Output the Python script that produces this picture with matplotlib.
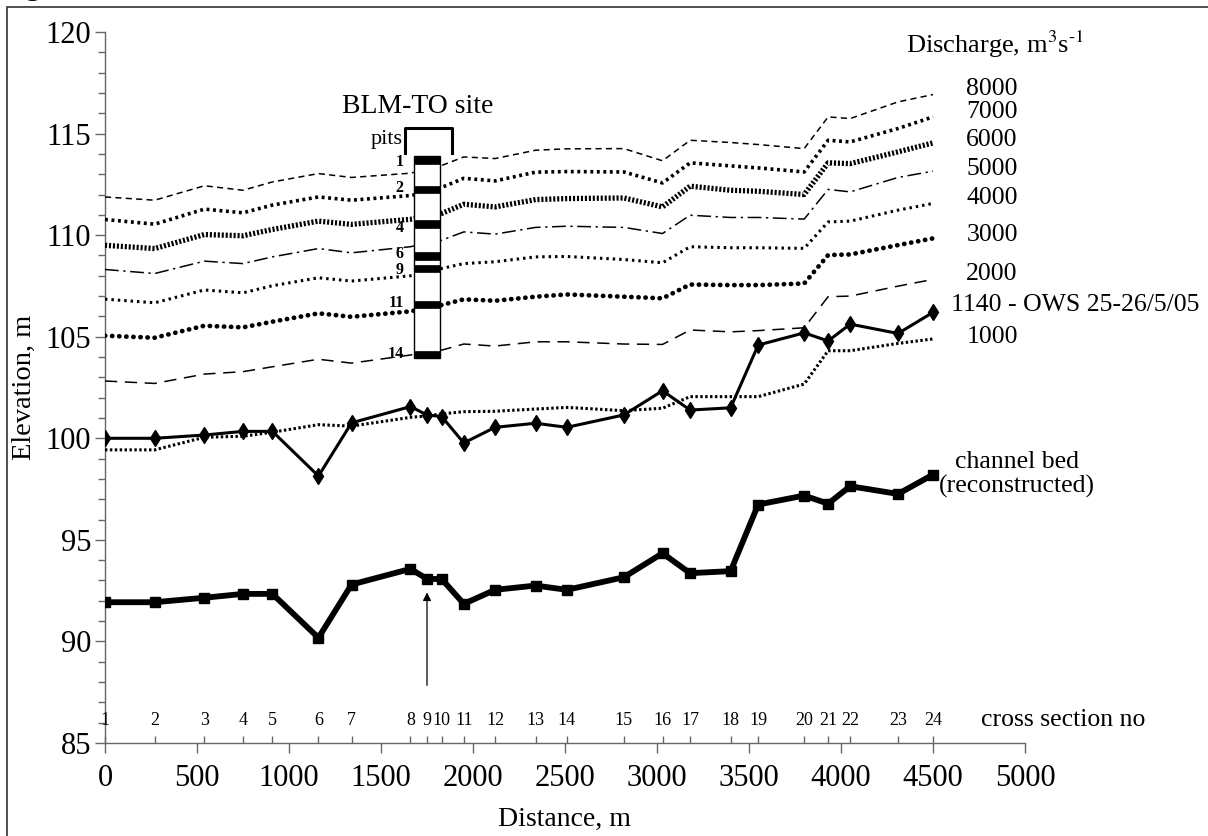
import matplotlib
matplotlib.use('Agg')
import matplotlib.pyplot as plt
from matplotlib.patches import Rectangle
from matplotlib.ticker import MultipleLocator, FixedLocator

plt.rcParams['font.family'] = ['Liberation Serif', 'DejaVu Serif']
plt.rcParams['mathtext.fontset'] = 'stix'

# cross sections along the reach
section_no = list(range(1, 25))
distance = [0, 270, 540, 750, 910, 1160, 1340, 1660, 1750, 1830, 1950, 2120,
            2340, 2510, 2820, 3030, 3180, 3400, 3550, 3800, 3930, 4050, 4310, 4500]

# water surface elevation (m) for each discharge (m3/s)
q8000 = [111.88, 111.72, 112.43, 112.21, 112.62, 113.03, 112.84, 113.05, 113.25, 113.43, 113.85, 113.77,
         114.18, 114.25, 114.26, 113.66, 114.67, 114.56, 114.46, 114.26, 115.82, 115.74, 116.56, 116.92]
q7000 = [110.77, 110.54, 111.28, 111.10, 111.48, 111.88, 111.72, 111.95, 112.10, 112.35, 112.80, 112.67,
         113.10, 113.13, 113.11, 112.57, 113.56, 113.41, 113.31, 113.11, 114.67, 114.59, 115.25, 115.82]
q6000 = [109.50, 109.34, 110.03, 109.97, 110.28, 110.69, 110.53, 110.78, 110.92, 111.07, 111.52, 111.39,
         111.75, 111.80, 111.83, 111.39, 112.41, 112.21, 112.16, 112.00, 113.56, 113.52, 114.10, 114.54]
q5000 = [108.31, 108.11, 108.72, 108.60, 108.93, 109.34, 109.13, 109.43, 109.60, 109.75, 110.16, 110.05,
         110.38, 110.44, 110.38, 110.08, 110.98, 110.87, 110.87, 110.79, 112.25, 112.13, 112.84, 113.15]
q4000 = [106.85, 106.67, 107.30, 107.16, 107.51, 107.90, 107.74, 108.00, 108.15, 108.36, 108.60, 108.69,
         108.93, 108.95, 108.80, 108.64, 109.43, 109.38, 109.38, 109.35, 110.65, 110.69, 111.23, 111.56]
q3000 = [105.05, 104.95, 105.54, 105.46, 105.74, 106.15, 105.98, 106.25, 106.40, 106.56, 106.84, 106.77,
         106.97, 107.08, 106.97, 106.89, 107.57, 107.54, 107.54, 107.62, 109.02, 109.05, 109.51, 109.84]
q2000 = [102.82, 102.70, 103.16, 103.28, 103.52, 103.89, 103.70, 104.10, 104.25, 104.34, 104.64, 104.54,
         104.75, 104.75, 104.64, 104.62, 105.33, 105.24, 105.30, 105.44, 106.97, 107.00, 107.49, 107.82]
ows_1140 = [100.00, 100.00, 100.16, 100.34, 100.34, 98.14, 100.76, 101.56, 101.15, 101.07, 99.77, 100.54,
            100.74, 100.54, 101.15, 102.34, 101.39, 101.50, 104.59, 105.19, 104.79, 105.62, 105.16, 106.20]
q1000 = [99.43, 99.43, 100.05, 100.10, 100.30, 100.67, 100.60, 101.03, 101.10, 101.20, 101.31, 101.33,
         101.44, 101.52, 101.36, 101.48, 102.05, 102.05, 102.05, 102.67, 104.31, 104.31, 104.67, 104.89]
bed = [91.93, 91.93, 92.15, 92.34, 92.34, 90.18, 92.80, 93.57, 93.08, 93.07, 91.85, 92.54,
       92.75, 92.54, 93.16, 94.34, 93.36, 93.46, 96.74, 97.18, 96.78, 97.64, 97.26, 98.21]

# BLM-TO site pits (top / bottom of each layer, m)
pit_no = ['1', '2', '4', '6', '9', '11', '14']
pit_top = [113.90, 112.43, 110.73, 109.16, 108.55, 106.78, 104.30]
pit_bottom = [113.52, 112.09, 110.35, 108.77, 108.17, 106.41, 103.96]
pit_label_y = [113.62, 112.32, 110.36, 109.05, 108.26, 106.64, 104.16]

fig = plt.figure(figsize=(12.08, 8.36), dpi=100)
ax = fig.add_axes([105 / 1208, 93 / 836, 920 / 1208, 711 / 836])

ax.plot(distance, q8000, color='k', lw=1.1, ls=(0, (4, 2.8)), zorder=3)
ax.plot(distance, q7000, color='k', lw=2.6, ls=(0, (0.8, 1.0)), zorder=3)
ax.plot(distance, q6000, color='k', lw=3.8, ls=(0, (0.4, 0.35)), zorder=3)
ax.plot(distance, q5000, color='k', lw=1.1, ls=(0, (9, 3, 1.5, 3)), zorder=3)
ax.plot(distance, q4000, color='k', lw=2.2, ls=(0, (0.8, 1.3)), zorder=3)
ax.plot(distance, q3000, color='k', lw=3.4, ls=(0, (0.05, 1.45)), dash_capstyle='round', zorder=3)
ax.plot(distance, q2000, color='k', lw=1.1, ls=(0, (8, 5)), zorder=3)
ax.plot(distance, ows_1140, color='k', lw=2.2, marker='d', ms=8, zorder=4)
ax.plot(distance, q1000, color='k', lw=2.2, ls=(0, (0.8, 0.8)), zorder=3)
ax.plot(distance, bed, color='k', lw=4.2, marker='s', ms=7, zorder=4)

# pits column at the BLM-TO site
box_x0, box_w = 1679, 140
ax.add_patch(Rectangle((box_x0, min(pit_bottom)), box_w, max(pit_top) - min(pit_bottom),
                       facecolor='white', edgecolor='k', lw=1, zorder=5))
for name, top, bot, ly in zip(pit_no, pit_top, pit_bottom, pit_label_y):
    ax.add_patch(Rectangle((box_x0, bot), box_w, top - bot, facecolor='k', edgecolor='k', lw=0.5, zorder=6))
    ax.text(box_x0 - 55, ly, name, fontsize=11.5, fontweight='bold',
            ha='right', va='center', zorder=7)

ax.plot([1633, 1633, 1888, 1888], [114.05, 115.25, 115.25, 114.05], color='k', lw=2.2,
        clip_on=False, zorder=6)
ax.text(1620, 114.7, 'pits', fontsize=16, ha='right', va='center')
ax.text(1697, 116.35, 'BLM-TO site', fontsize=20, ha='center', va='center')

ax.annotate('', xy=(1750, 92.55), xytext=(1750, 87.7),
            arrowprops=dict(arrowstyle='-|>', color='k', lw=0.9, mutation_scale=12))

# right hand labels
ax.text(4837, 119.4, 'Discharge, m$^3$s$^{\u20101}$', fontsize=19, ha='center', va='center')
q_labels = ['8000', '7000', '6000', '5000', '4000', '3000', '2000', '1000']
q_label_y = [117.2, 116.07, 114.7, 113.28, 111.85, 110.0, 108.08, 105.0]
for lab, yy in zip(q_labels, q_label_y):
    ax.text(4821, yy, lab, fontsize=18.5, ha='center', va='center')
ax.text(4600, 106.56, '1140 - OWS 25-26/5/05', fontsize=18.5, ha='left', va='center')
ax.text(4955, 98.2, 'channel bed\n(reconstructed)', fontsize=18.5, ha='center', va='center',
        linespacing=1.1)

# cross section numbers
for n, d in zip(section_no, distance):
    ax.text(d, 86.1, str(n), fontsize=13, ha='center', va='center')
ax.text(4762, 86.15, 'cross section no', fontsize=18.5, ha='left', va='center')

ax.set_xlim(0, 5000)
ax.set_ylim(85, 120)
ax.xaxis.set_major_locator(MultipleLocator(500))
ax.xaxis.set_minor_locator(FixedLocator(distance))
ax.xaxis.remove_overlapping_locs = False
ax.yaxis.set_major_locator(MultipleLocator(5))
ax.yaxis.set_minor_locator(MultipleLocator(1))

for s in ['top', 'right']:
    ax.spines[s].set_visible(False)
for s in ['left', 'bottom']:
    ax.spines[s].set_color('#666666')
    ax.spines[s].set_linewidth(1)

ax.tick_params(axis='y', which='major', direction='out', length=7, width=1, color='#666666',
               labelsize=22, pad=3)
ax.tick_params(axis='y', which='minor', direction='out', length=5, width=1, color='#666666')
ax.tick_params(axis='x', which='major', direction='out', length=7, width=1, color='#666666',
               labelsize=22, pad=8)
ax.tick_params(axis='x', which='minor', direction='in', length=5, width=1, color='#666666')

ax.set_xlabel('Distance, m', fontsize=20, labelpad=10)
ax.set_ylabel('Elevation, m', fontsize=20.5, labelpad=6)

# frame round the figure
fig.patches.append(Rectangle((7 / 1208, -0.05), 1.1, 1.05 - 7 / 836, transform=fig.transFigure,
                             fill=False, edgecolor='#333333', lw=1.2))
fig.text(-0.002, 1 + 6 / 836, 'Fig', fontsize=24, va='baseline', ha='left')

fig.savefig('out.png', dpi=100)
